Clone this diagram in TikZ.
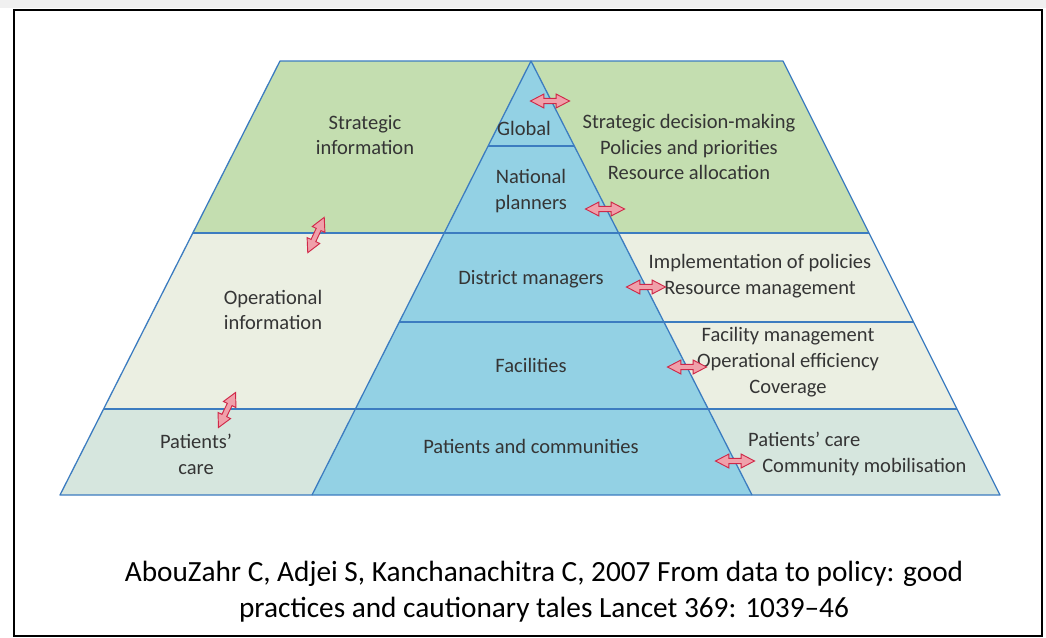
\documentclass[tikz,border=0pt]{standalone}
\usepackage{fontspec}
\setmainfont{Carlito}
\usepackage{tikz}
\usetikzlibrary{shapes.arrows}
\definecolor{edgeblue}{HTML}{3C7CC0}
\definecolor{stratgreen}{HTML}{C4DEB0}
\definecolor{pyrblue}{HTML}{93D1E4}
\definecolor{operpale}{HTML}{EBEFE2}
\definecolor{carepale}{HTML}{D6E6DE}
\definecolor{arrfill}{HTML}{F0A0AA}
\definecolor{arrline}{HTML}{D02848}
\definecolor{txtgray}{HTML}{353535}
\tikzstyle{edge} = [draw=edgeblue, line width=1.1pt, line join=round]
\tikzstyle{lbl} = [text=txtgray, align=center, inner sep=0pt, font=\fontsize{17.5}{22}\selectfont]
\tikzstyle{flow} = [double arrow, draw=arrline, fill=arrfill, line width=0.8pt, minimum height=1.17cm, inner sep=0.065cm, double arrow head extend=0.13cm, double arrow tip angle=55]

\begin{document}
\begin{tikzpicture}[x=0.03cm, y=-0.03cm]
		\useasboundingbox (0,0) rectangle (1046,637);
		\fill[black!6] (0,0) rectangle (1046,8);
		\draw[line width=2pt] (14,10) rectangle (1042,636);

		% left side
		\fill[stratgreen] (280,61) -- (531,61) -- (444.2,233) -- (192.8,233) -- cycle;
		\fill[operpale] (192.8,233) -- (444.2,233) -- (355.4,409) -- (103.6,409) -- cycle;
		\fill[carepale] (103.6,409) -- (355.4,409) -- (312,495) -- (60,495) -- cycle;

		% right side
		\fill[stratgreen] (531,61) -- (783,61) -- (869,233) -- (618.5,233) -- cycle;
		\fill[operpale] (618.5,233) -- (869,233) -- (957,409) -- (708,409) -- cycle;
		\fill[carepale] (708,409) -- (957,409) -- (1000,495) -- (752,495) -- cycle;

		% pyramid
		\fill[pyrblue] (531,61) -- (752,495) -- (312,495) -- cycle;

		\draw[edge] (280,61) -- (783,61) -- (1000,495) -- (60,495) -- cycle;
		\draw[edge] (312,495) -- (531,61) -- (752,495);
		\draw[edge] (488.1,146) -- (574.3,146);
		\draw[edge] (192.8,233) -- (869,233);
		\draw[edge] (399.3,322) -- (913.5,322);
		\draw[edge] (103.6,409) -- (957,409);

		\node (strat) [lbl] at (365,135) {Strategic\\information};
		\node (oper) [lbl] at (273,310) {Operational\\information};
		\node (pcare) [lbl] at (196,454) {Patients’\\care};

		\node (global) [lbl] at (524,128) {Global};
		\node (natpl) [lbl] at (531,191) {National\\planners};
		\node (distm) [lbl] at (531,279) {District managers};
		\node (facil) [lbl] at (531,365) {Facilities};
		\node (pcomm) [lbl] at (531,446) {Patients and communities};

		\node (decis) [lbl] at (689,147) {Strategic decision-making\\Policies and priorities\\Resource allocation};
		\node (implem) [lbl] at (760,276) {Implementation of policies\\Resource management};
		\node (facmg) [lbl] at (788,362) {Facility management\\Operational efficiency\\Coverage};
		\node (carecom) [lbl, align=left, anchor=west] at (748,454) {\hspace{0pt}Patients’ care\\\hspace{12pt}Community mobilisation};

		\node (a1) [flow] at (550,101) {};
		\node (a2) [flow] at (605,209) {};
		\node (a3) [flow] at (646,287) {};
		\node (a4) [flow] at (687,367) {};
		\node (a5) [flow] at (735,461) {};
		\node (a6) [flow, rotate=65] at (316,235) {};
		\node (a7) [flow, rotate=64] at (227,410) {};

		\node (ref) [align=center, inner sep=0pt, font=\fontsize{25}{31}\selectfont] at (544,592) {AbouZahr C, Adjei S, Kanchanachitra C, 2007 From data to policy: good\\practices and cautionary tales Lancet 369: 1039–46};
	\end{tikzpicture}
\end{document}
